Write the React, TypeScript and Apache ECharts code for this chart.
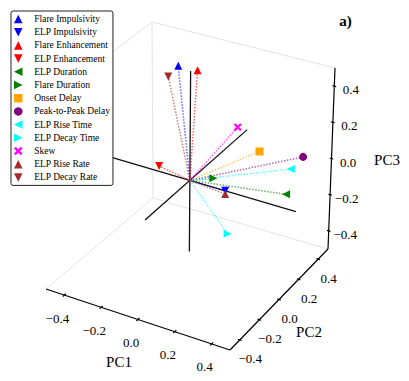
import React, { useEffect, useRef } from "react";
import * as echarts from "echarts";

// ---- data (loadings) ----
const variableNames = [
  "Flare Impulsivity",
  "ELP Impulsivity",
  "Flare Enhancement",
  "ELP Enhancement",
  "ELP Duration",
  "Flare Duration",
  "Onset Delay",
  "Peak-to-Peak Delay",
  "ELP Rise Time",
  "ELP Decay Time",
  "Skew",
  "ELP Rise Rate",
  "ELP Decay Rate",
];
const pc1Loadings = [-0.21, 0.221, -0.048, -0.18, 0.444, 0.111, 0.321, 0.478, 0.439, 0.319, 0.145, 0.221, -0.293];
const pc2Loadings = [0.25, -0.05, 0.15, 0.02, 0.15, 0.03, 0.1, 0.25, 0.2, -0.2, 0.2, -0.05, 0.3];
const pc3Loadings = [0.45, 0.034, 0.519, 0.016, -0.025, 0.029, 0.2, 0.136, 0.085, -0.092, 0.233, 0.016, 0.344];

const tickValues = [-0.4, -0.2, 0, 0.2, 0.4];
const tickLabels = ["\u22120.4", "\u22120.2", "0.0", "0.2", "0.4"];
const axisTitles = ["PC1", "PC2", "PC3"];
// extent of the black reference axes through the origin
const pc1AxisRange = [-0.6, 0.58];
const pc2AxisRange = [-0.43, 0.55];
const pc3AxisRange = [-0.39, 0.6];

// ---- styles ----
const TRI_UP = "path://M5,0L10,10L0,10Z";
const TRI_DOWN = "path://M0,0L10,0L5,10Z";
const TRI_LEFT = "path://M10,0L10,10L0,5Z";
const TRI_RIGHT = "path://M0,0L10,5L0,10Z";
const SQUARE = "path://M0,0L10,0L10,10L0,10Z";
const X_PATH = "path://M0,2L2,0L5,3L8,0L10,2L7,5L10,8L8,10L5,7L2,10L0,8L3,5Z";
const markerColors = [
  "#0000ff", "#0000ff", "#ff0000", "#ff0000", "#008000", "#008000",
  "#ffa500", "#800080", "#00ffff", "#00ffff", "#ff00ff", "#a52a2a", "#a52a2a",
];
const markerSymbols = [
  TRI_UP, TRI_DOWN, TRI_UP, TRI_DOWN, TRI_LEFT, TRI_RIGHT,
  SQUARE, "circle", TRI_LEFT, TRI_RIGHT, X_PATH, TRI_UP, TRI_DOWN,
];

// ---- camera: screen positions of the 8 box corners (box = [-0.5,0.5]^3) ----
const W = 409;
const H = 381;
const CORNERS: Record<string, [number, number]> = {
  "000": [46, 289],
  "100": [230, 350],
  "110": [328, 249],
  "010": [153, 198],
  "001": [43, 105],
  "101": [232, 162],
  "111": [335, 68],
  "011": [152, 22],
};

function proj(x: number, y: number, z: number): [number, number] {
  const u = x + 0.5, v = y + 0.5, w = z + 0.5;
  let sx = 0, sy = 0;
  for (let i = 0; i < 2; i++)
    for (let j = 0; j < 2; j++)
      for (let k = 0; k < 2; k++) {
        const wt = (i ? u : 1 - u) * (j ? v : 1 - v) * (k ? w : 1 - w);
        const c = CORNERS[`${i}${j}${k}`];
        sx += wt * c[0];
        sy += wt * c[1];
      }
  return [sx, sy];
}

const seg = (a: [number, number, number], b: [number, number, number]) => ({
  coords: [proj(a[0], a[1], a[2]), proj(b[0], b[1], b[2])],
});

export default function App() {
  const ref = useRef<HTMLDivElement>(null);
  useEffect(() => {
    if (!ref.current) return;
    const chart = echarts.init(ref.current, undefined, { renderer: "svg" });
    const origin = proj(0, 0, 0);
    const serif = "Liberation Serif, Times New Roman, serif";

    const paneEdges = [
      seg([-0.5, -0.5, -0.5], [-0.5, 0.5, -0.5]),
      seg([-0.5, 0.5, -0.5], [0.5, 0.5, -0.5]),
      seg([-0.5, 0.5, -0.5], [-0.5, 0.5, 0.5]),
      seg([-0.5, 0.5, 0.5], [0.5, 0.5, 0.5]),
      seg([-0.5, 0.5, 0.5], [-0.5, -0.5, 0.5]),
    ];
    const boxEdges = [
      seg([-0.5, -0.5, -0.5], [0.5, -0.5, -0.5]),
      seg([0.5, -0.5, -0.5], [0.5, 0.5, -0.5]),
      seg([0.5, 0.5, -0.5], [0.5, 0.5, 0.5]),
    ];
    const tickMarks: any[] = [];
    tickValues.forEach((t) => {
      tickMarks.push(seg([t, -0.485, -0.5], [t, -0.515, -0.5]));
      tickMarks.push(seg([0.49, t, -0.5], [0.51, t, -0.5]));
      tickMarks.push(seg([0.49, 0.5, t], [0.51, 0.5, t]));
    });
    const innerAxes = [
      seg([pc1AxisRange[0], 0, 0], [pc1AxisRange[1], 0, 0]),
      seg([0, pc2AxisRange[0], 0], [0, pc2AxisRange[1], 0]),
      seg([0, 0, pc3AxisRange[0]], [0, 0, pc3AxisRange[1]]),
    ];

    const texts: any[] = [];
    tickValues.forEach((t, i) => {
      const p1 = proj(t, -0.5, -0.5);
      const p2 = proj(0.5, t, -0.5);
      const p3 = proj(0.5, 0.5, t);
      [
        [p1[0] - 7, p1[1] + 23],
        [p2[0] + 10.5, p2[1] + 19],
        [p3[0] + 16.5, p3[1] + 3.5],
      ].forEach((pos) =>
        texts.push({
          type: "text",
          x: pos[0],
          y: pos[1],
          style: {
            text: tickLabels[i],
            font: `13px ${serif}`,
            fill: "#000",
            align: "center",
            verticalAlign: "middle",
          },
          z: 10,
        })
      );
    });
    const titlePos = [
      [119, 361.5],
      [309, 331.5],
      [387, 159.5],
    ];
    axisTitles.forEach((t, i) =>
      texts.push({
        type: "text",
        x: titlePos[i][0],
        y: titlePos[i][1],
        style: {
          text: t,
          font: `15px ${serif}`,
          fill: "#000",
          align: "center",
          verticalAlign: "middle",
        },
        z: 10,
      })
    );
    texts.push({
      type: "text",
      x: 345.5,
      y: 21,
      style: {
        text: "a)",
        font: `bold 15px ${serif}`,
        fill: "#000",
        align: "center",
        verticalAlign: "middle",
      },
      z: 10,
    });

    const option: any = {
      animation: false,
      grid: { left: 0, right: 0, top: 0, bottom: 0 },
      xAxis: { type: "value", min: 0, max: W, show: false },
      yAxis: { type: "value", min: 0, max: H, inverse: true, show: false },
      legend: {
        data: variableNames,
        orient: "vertical",
        left: 11,
        top: 11,
        padding: [3, 3, 3, 3],
        itemWidth: 22,
        itemHeight: 8.5,
        itemGap: 3.2,
        symbolKeepAspect: true,
        selectedMode: false,
        backgroundColor: "#fff",
        borderColor: "#222",
        borderWidth: 1,
        borderRadius: 2,
        textStyle: { fontFamily: serif, fontSize: 9.5, color: "#000" },
        z: 20,
      },
      series: [
        {
          type: "lines",
          coordinateSystem: "cartesian2d",
          silent: true,
          z: 1,
          lineStyle: { color: "#e4e4e4", width: 1, opacity: 1 },
          data: paneEdges,
        },
        {
          type: "lines",
          coordinateSystem: "cartesian2d",
          silent: true,
          z: 2,
          lineStyle: { color: "#000", width: 1.2, opacity: 1 },
          data: boxEdges.concat(tickMarks),
        },
        {
          type: "lines",
          coordinateSystem: "cartesian2d",
          silent: true,
          z: 2,
          lineStyle: { color: "#111", width: 1.3, opacity: 1 },
          data: innerAxes,
        },
        {
          type: "lines",
          coordinateSystem: "cartesian2d",
          silent: true,
          z: 3,
          lineStyle: { width: 1.5, opacity: 0.6, type: [1.5, 1.5] },
          data: variableNames.map((n, i) => ({
            coords: [origin, proj(pc1Loadings[i], pc2Loadings[i], pc3Loadings[i])],
            lineStyle: { color: markerColors[i] },
          })),
        },
        ...variableNames.map((n, i) => ({
          type: "scatter",
          name: n,
          z: 5,
          symbol: markerSymbols[i],
          symbolSize: 8,
          symbolKeepAspect: true,
          itemStyle: { color: markerColors[i], opacity: 1 },
          data: [proj(pc1Loadings[i], pc2Loadings[i], pc3Loadings[i])],
        })),
      ],
      graphic: texts,
    };
    chart.setOption(option);
    return () => chart.dispose();
  }, []);
  return (
    <div
      ref={ref}
      style={{ position: "absolute", left: 0, top: 0, width: W, height: H }}
    />
  );
}
